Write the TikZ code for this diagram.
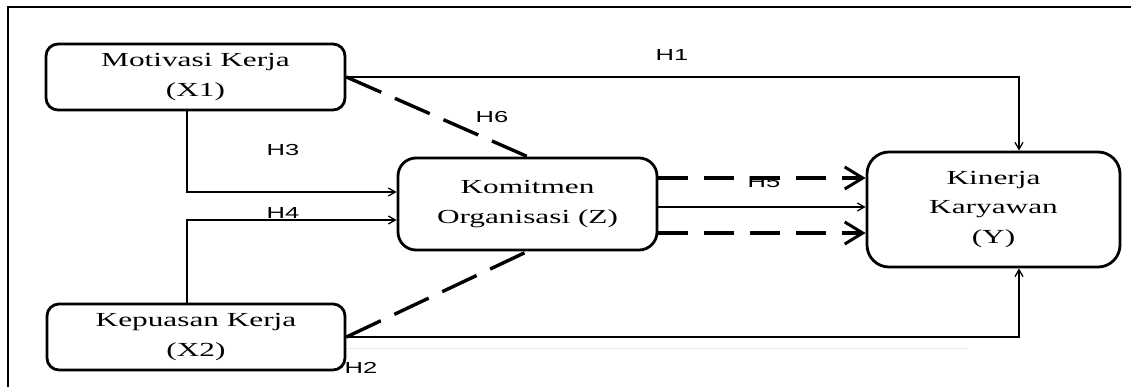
\documentclass[tikz,border=0pt]{standalone}
\usepackage{fontspec}
\setmainfont{Liberation Serif}
\newfontfamily\labelfont{Liberation Sans}
\usetikzlibrary{arrows.meta}
\newcommand{\hs}[1]{\scalebox{1.57}[1]{#1}}
\newcommand{\hl}[1]{\scalebox{1.6}[1]{#1}}
\begin{document}
\begin{tikzpicture}[x=1bp,y=-1bp,
  box/.style={draw, line width=2.8bp, rounded corners=12bp, inner sep=0pt, align=center, font=\fontsize{20}{30}\selectfont},
  conn/.style={line width=1.3bp, -{Straight Barb[length=7bp,width=8bp]}},
  dashline/.style={line width=3.4bp, dash pattern=on 30bp off 16bp},
  diagdash/.style={line width=3.4bp, dash pattern=on 38bp off 15bp},
  bigarrow/.style={-{Straight Barb[length=18bp,width=22bp,line width=3bp]}},
  hyp/.style={font=\labelfont\fontsize{16}{16}\selectfont, inner sep=0pt}]
\useasboundingbox (0,0) rectangle (1131,387);
% frame
\draw[line width=2bp] (8,387) -- (8,7) -- (1131,7);
\draw[line width=1bp, black!8] (345,348) -- (967,348);
% nodes
\node[box, minimum width=299bp, minimum height=66bp] (x1) at (195.5,77) {\hs{Motivasi Kerja}\\\hs{(X1)}};
\node[box, minimum width=298bp, minimum height=66bp] (x2) at (196,337) {\hs{Kepuasan Kerja}\\\hs{(X2)}};
\node[box, minimum width=259bp, minimum height=92bp, rounded corners=18bp] (z) at (527.5,204) {\hs{Komitmen}\\\hs{Organisasi (Z)}};
\node[box, minimum width=253bp, minimum height=115bp, rounded corners=22bp] (y) at (993.5,209.5) {\hs{Kinerja}\\\hs{Karyawan}\\\hs{(Y)}};
% coordinates
\coordinate (c1) at (1019,76);
\coordinate (c2) at (1019,337);
\coordinate (c3) at (187,192);
\coordinate (c4) at (187,220);
% connectors
\draw[conn] (x1.east) -- (x1.east -| c1) -- (y.north -| c1);
\draw[conn] (x2.east) -- (x2.east -| c2) -- (y.south -| c2);
\draw[conn] (x1.south -| c3) -- (c3) -- (c3 -| z.west);
\draw[conn] (x2.north -| c4) -- (c4) -- (c4 -| z.west);
\draw[diagdash] (x1.east) -- (z.north);
\draw[diagdash] (x2.east) -- (z.south);
\draw[dashline, bigarrow] ([yshift=26bp]z.east) -- ([yshift=26bp]z.east -| y.west);
\draw[dashline, bigarrow] ([yshift=-29bp]z.east) -- ([yshift=-29bp]z.east -| y.west);
\draw[conn] ([yshift=-3bp]z.east) -- ([yshift=-3bp]z.east -| y.west);
% labels
\node[hyp] (lh1) at (672,55) {\hl{H1}};
\node[hyp] (lh2) at (361,368) {\hl{H2}};
\node[hyp] (lh3) at (283,150) {\hl{H3}};
\node[hyp] (lh4) at (283,213) {\hl{H4}};
\node[hyp] (lh5) at (764,182) {\hl{H5}};
\node[hyp] (lh6) at (492,117) {\hl{H6}};
\end{tikzpicture}
\end{document}
